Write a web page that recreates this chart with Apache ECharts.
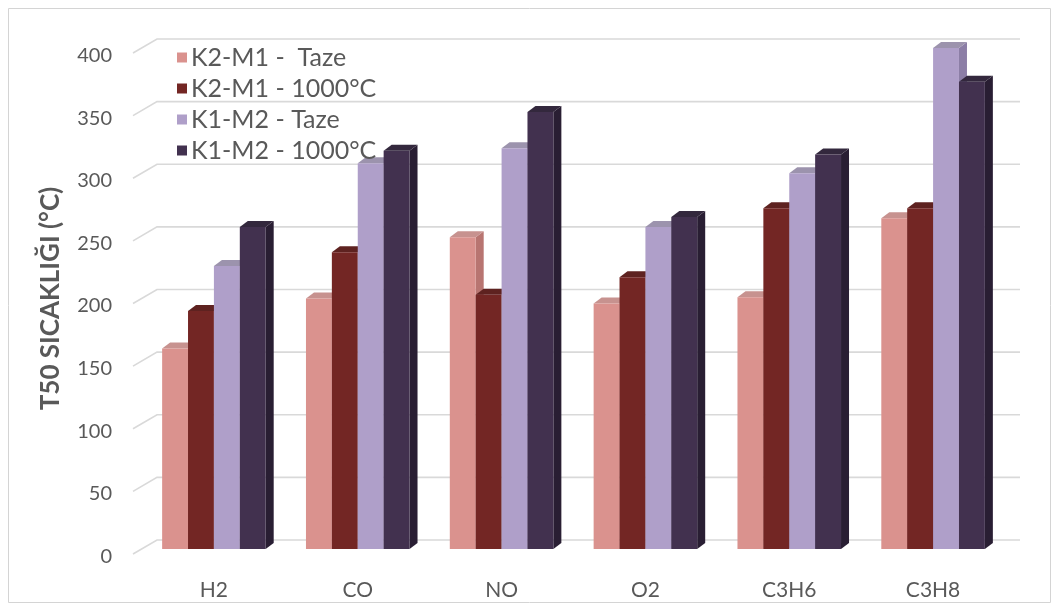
<!DOCTYPE html>
<html>
<head>
<meta charset="utf-8">
<script src="https://cdn.jsdelivr.net/npm/echarts@6/dist/echarts.min.js"></script>
<style>
  html, body { margin: 0; padding: 0; background: #ffffff; }
  #chart { width: 1059px; height: 607px; }
</style>
</head>
<body>
<div id="chart"></div>
<script>
// Gases tested
const categories = ['H2', 'CO', 'NO', 'O2', 'C3H6', 'C3H8'];

// T50 light-off temperatures (°C)
const k2m1Fresh = [160, 200, 249, 196, 201, 264];
const k2m1Aged  = [190, 237, 203, 217, 272, 272];
const k1m2Fresh = [226, 308, 320, 257, 300, 400];
const k1m2Aged  = [257, 318, 349, 265, 315, 373];

const seriesNames = ['K2-M1 -  Taze', 'K2-M1 - 1000°C', 'K1-M2 - Taze', 'K1-M2 - 1000°C'];

// Value-axis ticks (used for the wall gridlines)
const yTicks = [0, 50, 100, 150, 200, 250, 300, 350, 400];

// face colours: front, side, top
const palettes = [
  { front: '#DA928E', side: '#B87571', top: '#C7928F' },
  { front: '#732624', side: '#511816', top: '#5E2220' },
  { front: '#AF9FC9', side: '#8C7EA6', top: '#9C93AD' },
  { front: '#42314F', side: '#291E33', top: '#33283D' }
];

const BAR_FRAC = 0.18;   // bar width as fraction of category band
const DX = 8, DY = 6;    // bar depth projection
const WALL_DX = 15, WALL_DY = 9;    // back wall offset from bar plane
const FRONT_DX = -9, FRONT_DY = 5;  // front edge offset from bar plane

function makeBarRender(pos, pal) {
  return function (params, api) {
    const ci = api.value(0);
    const v = api.value(1);
    const base = api.coord([ci, 0]);
    const top = api.coord([ci, v]);
    const band = api.size([1, 0])[0];
    const w = band * BAR_FRAC;
    const x0 = base[0] + (pos - 2) * w;
    const yt = top[1], yb = base[1];
    return {
      type: 'group',
      children: [
        {
          type: 'polygon',
          shape: { points: [[x0 + w, yt], [x0 + w + DX, yt - DY], [x0 + w + DX, yb - DY], [x0 + w, yb]] },
          style: { fill: pal.side }
        },
        {
          type: 'polygon',
          shape: { points: [[x0, yt], [x0 + DX, yt - DY], [x0 + w + DX, yt - DY], [x0 + w, yt]] },
          style: { fill: pal.top }
        },
        {
          type: 'rect',
          shape: { x: x0, y: yt, width: w, height: yb - yt },
          style: { fill: pal.front }
        }
      ]
    };
  };
}

function wallRender(params, api) {
  const v = api.value(1);
  const p = api.coord([0, v]);
  const cs = params.coordSys;
  const y = p[1];
  return {
    type: 'polyline',
    shape: {
      points: [
        [cs.x + FRONT_DX, y + FRONT_DY],
        [cs.x + WALL_DX, y - WALL_DY],
        [cs.x + cs.width + WALL_DX, y - WALL_DY]
      ]
    },
    style: { stroke: '#D9D9D9', lineWidth: 1.6, fill: null }
  };
}

const dataSets = [k2m1Fresh, k2m1Aged, k1m2Fresh, k1m2Aged];

const barSeries = dataSets.map((arr, i) => ({
  type: 'custom',
  name: seriesNames[i],
  z: 3,
  renderItem: makeBarRender(i, palettes[i]),
  itemStyle: { color: palettes[i].front },
  encode: { x: 0, y: 1 },
  data: arr.map((v, j) => [j, v])
}));

const chart = echarts.init(document.getElementById('chart'), null, { renderer: 'canvas' });

chart.setOption({
  backgroundColor: '#ffffff',
  animation: false,
  textStyle: { fontFamily: 'Lato, "Open Sans", sans-serif' },
  graphic: [
    {
      type: 'rect',
      shape: { x: 8.5, y: 8.5, width: 1042, height: 594 },
      style: { fill: null, stroke: '#D4D4D4', lineWidth: 1 },
      silent: true,
      z: 0
    }
  ],
  grid: { left: 142, right: 54, top: 48, bottom: 58 },
  legend: {
    orient: 'vertical',
    left: 172,
    top: 40,
    itemWidth: 10,
    itemHeight: 10,
    itemGap: 6,
    itemStyle: { borderWidth: 0 },
    icon: 'rect',
    data: seriesNames,
    textStyle: { fontSize: 25, color: '#595959', lineHeight: 23, fontFamily: 'Lato, sans-serif', padding: [0, 0, 0, -1] }
  },
  xAxis: {
    type: 'category',
    data: categories,
    axisLine: { show: false },
    axisTick: { show: false },
    axisLabel: { margin: 31, fontSize: 21, color: '#595959', fontFamily: 'Lato, sans-serif' }
  },
  yAxis: {
    type: 'value',
    min: 0,
    max: 400,
    interval: 50,
    name: 'T50 SICAKLIĞI (°C)',
    nameLocation: 'middle',
    nameGap: 78,
    nameTextStyle: { fontSize: 26, fontWeight: 'bold', color: '#595959', fontFamily: 'Lato, sans-serif' },
    axisLine: { show: false },
    axisTick: { show: false },
    splitLine: { show: false },
    axisLabel: {
      margin: 30, fontSize: 20, color: '#595959', fontFamily: 'Lato, sans-serif',
      verticalAlign: 'top', lineHeight: 15
    }
  },
  series: [
    {
      type: 'custom',
      name: 'wall',
      silent: true,
      z: 1,
      renderItem: wallRender,
      encode: { x: 0, y: 1 },
      data: yTicks.map(v => [0, v])
    }
  ].concat(barSeries)
});
</script>
</body>
</html>
